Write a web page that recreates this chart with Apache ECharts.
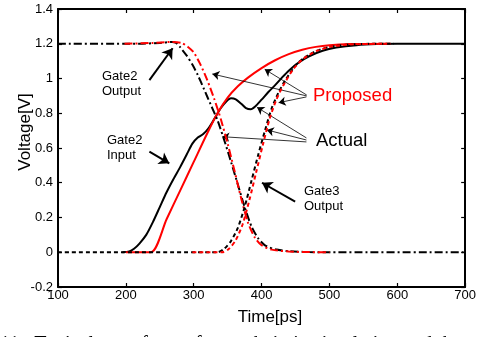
<!DOCTYPE html>
<html><head><meta charset="utf-8">
<script src="https://cdn.jsdelivr.net/npm/echarts@6/dist/echarts.min.js"></script>
<style>html,body{margin:0;padding:0;background:#fff}#c{width:479px;height:337px}</style>
</head><body><div id="c"></div>
<script>
// ---- data ----
const xTicks = [100, 200, 300, 400, 500, 600, 700];
const yTicks = [-0.2, 0, 0.2, 0.4, 0.6, 0.8, 1, 1.2, 1.4];

const gate2InputActual = [[195,0],[205,0.005],[212,0.02],[220,0.05],[230,0.1],[240,0.175],[250,0.26],[260,0.345],[270,0.42],[280,0.49],[290,0.565],[298,0.625],[306,0.66],[314,0.68],[322,0.715],[330,0.765],[340,0.83],[348,0.868],[355,0.886],[362,0.88],[370,0.855],[377,0.83],[384,0.823],[391,0.84],[400,0.878],[410,0.922],[420,0.962],[430,1.005],[440,1.045],[455,1.093],[470,1.128],[490,1.16],[510,1.178],[540,1.192],[570,1.198],[600,1.2],[700,1.2]];
const gate2InputProposed = [[200,0],[237,0],[260,0.19],[280,0.355],[300,0.52],[320,0.685],[335,0.8],[350,0.89],[365,0.955],[380,1.005],[400,1.06],[420,1.105],[440,1.14],[460,1.165],[480,1.182],[500,1.192],[530,1.198],[590,1.2]];
const gate2OutputActual = [[100,1.2],[220,1.2],[250,1.205],[268,1.21],[274,1.205],[280,1.18],[290,1.13],[298,1.08],[306,1.02],[315,0.94],[325,0.85],[335,0.76],[345,0.645],[355,0.52],[365,0.39],[375,0.26],[385,0.15],[395,0.08],[405,0.04],[420,0.017],[440,0.006],[470,0.001],[500,0],[700,0]];
const gate2OutputProposed = [[198,1.2],[240,1.205],[265,1.21],[282,1.205],[292,1.18],[300,1.15],[310,1.08],[320,0.99],[330,0.885],[340,0.765],[350,0.625],[360,0.47],[370,0.31],[380,0.17],[390,0.085],[400,0.04],[415,0.015],[440,0.004],[470,0.001],[500,0]];
const gate3OutputActual = [[100,0],[335,0],[345,0.02],[355,0.065],[365,0.14],[375,0.26],[385,0.41],[395,0.56],[405,0.7],[415,0.83],[425,0.92],[435,0.99],[450,1.075],[465,1.125],[485,1.165],[510,1.188],[540,1.198],[595,1.2]];
const gate3OutputProposed = [[298,0],[342,0],[352,0.02],[362,0.07],[372,0.16],[382,0.3],[392,0.46],[402,0.62],[412,0.77],[422,0.88],[432,0.96],[447,1.055],[462,1.115],[482,1.16],[505,1.185],[535,1.197],[585,1.2]];

// annotation arrows in data coordinates [from, to]
const thickArrows = [
  [[234.7,0.991],[268.9,1.174]],
  [[234.7,0.579],[264.0,0.512]],
  [[449.5,0.291],[400.6,0.400]]
];
const thinArrows = [
  [[466.5,0.905],[404.6,1.053]],
  [[466.1,0.894],[425.1,0.861]],
  [[466.3,0.900],[327.4,1.026]],
  [[466.1,0.658],[393.3,0.834]],
  [[466.1,0.646],[407.6,0.704]],
  [[466.1,0.635],[342.1,0.665]]
];

const FONT = '"Liberation Sans", Arial, Helvetica, sans-serif';
const RED = '#ff0000', BLACK = '#000000';

function arrowData(list, w, size) {
  return list.map(p => [
    {coord: p[0], symbol: 'none', lineStyle: {width: w, color: BLACK, type: 'solid'}},
    {coord: p[1], symbol: 'arrow', symbolSize: size}
  ]);
}

function lineSeries(name, data, color, type, z) {
  return {
    name, type: 'line', data, showSymbol: false, symbol: 'none',
    smooth: 0.25, z: z,
    lineStyle: {color, width: 2, type},
    silent: true
  };
}

const chart = echarts.init(document.getElementById('c'), null, {renderer: 'canvas'});

const axisCommon = {
  type: 'value',
  axisLine: {show: true, onZero: false, lineStyle: {color: BLACK, width: 2}},
  axisTick: {show: true, inside: true, length: 4, lineStyle: {color: BLACK, width: 1.2}},
  splitLine: {show: false},
};

const series = [
  lineSeries('Gate2 Input Actual', gate2InputActual, BLACK, 'solid', 2),
  lineSeries('Gate2 Input Proposed', gate2InputProposed, RED, 'solid', 3),
  lineSeries('Gate2 Output Actual', gate2OutputActual, BLACK, [8,3,2,3], 4),
  lineSeries('Gate2 Output Proposed', gate2OutputProposed, RED, [8,3,2,3], 5),
  lineSeries('Gate3 Output Actual', gate3OutputActual, BLACK, [4,3], 6),
  lineSeries('Gate3 Output Proposed', gate3OutputProposed, RED, [4,3], 7)
];
series[0].markLine = {silent: true, animation: false, label: {show: false}, symbol: ['none','arrow'],
  lineStyle: {color: BLACK, width: 2, type: 'solid'}, data: arrowData(thickArrows, 2, 10)};
series[2].markLine = {silent: true, animation: false, label: {show: false}, symbol: ['none','arrow'],
  lineStyle: {color: BLACK, width: 0.8, type: 'solid'}, data: arrowData(thinArrows, 0.8, 7)};

chart.setOption({
  animation: false,
  backgroundColor: '#ffffff',
  grid: {left: 58, right: 11, top: 9, bottom: 50, containLabel: false},
  xAxis: [
    Object.assign({}, axisCommon, {position: 'bottom', min: xTicks[0], max: xTicks[xTicks.length-1], interval: 100,
      axisLabel: {color: BLACK, fontSize: 13, fontFamily: FONT, margin: 2}}),
    Object.assign({}, axisCommon, {position: 'top', min: xTicks[0], max: xTicks[xTicks.length-1], interval: 100,
      axisLabel: {show: false}})
  ],
  yAxis: [
    Object.assign({}, axisCommon, {position: 'left', min: yTicks[0], max: yTicks[yTicks.length-1], interval: 0.2,
      axisLabel: {color: BLACK, fontSize: 13, fontFamily: FONT, margin: 5,
        formatter: v => String(Math.round(v*10)/10)}}),
    Object.assign({}, axisCommon, {position: 'right', min: yTicks[0], max: yTicks[yTicks.length-1], interval: 0.2,
      axisLabel: {show: false}})
  ],
  series,
  graphic: [
    {type: 'text', x: 25, y: 132, rotation: Math.PI/2,
      style: {text: 'Voltage[V]', font: '17px ' + FONT, fill: BLACK, textAlign: 'center', textVerticalAlign: 'middle'}},
    {type: 'text', x: 270, y: 309, style: {text: 'Time[ps]', font: '17px ' + FONT, fill: BLACK, textAlign: 'center', textVerticalAlign: 'top'}},
    {type: 'text', x: 102, y: 69, style: {text: 'Gate2\nOutput', font: '13px ' + FONT, lineHeight: 15, fill: BLACK}},
    {type: 'text', x: 107, y: 133, style: {text: 'Gate2\nInput', font: '13px ' + FONT, lineHeight: 15, fill: BLACK}},
    {type: 'text', x: 304, y: 184, style: {text: 'Gate3\nOutput', font: '13px ' + FONT, lineHeight: 15, fill: BLACK}},
    {type: 'text', x: 313, y: 86, style: {text: 'Proposed', font: '18.5px ' + FONT, fill: RED}},
    {type: 'text', x: 316, y: 131, style: {text: 'Actual', font: '18.5px ' + FONT, fill: BLACK}},
    {type: 'text', x: 0, y: 335, style: {text: '11.  Typical waveform of gate chain in simulation and the', font: '20px "Liberation Serif", "Times New Roman", serif', fill: BLACK}}
  ]
});
</script>
</body></html>
